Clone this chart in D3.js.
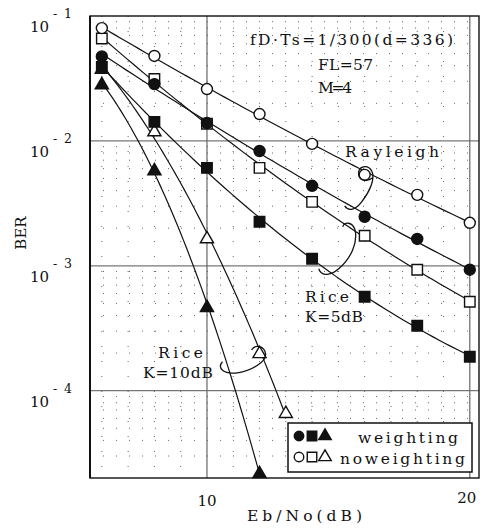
<!DOCTYPE html>
<html><head><meta charset="utf-8">
<script src="https://cdn.jsdelivr.net/npm/d3@7"></script>
<style>body{margin:0;background:#fff}svg{display:block}text{font-family:"DejaVu Serif","Liberation Serif",serif;fill:#111}</style>
</head><body>
<svg id="c" width="487" height="530"></svg>
<script>
// ---- data ----
const ebno = [6, 8, 10, 12, 14, 16, 18, 20];
const rayleighNoW = [0.080, 0.0479, 0.026, 0.0164, 0.00946, 0.00535, 0.0037, 0.00221];
const rayleighW   = [0.0475, 0.0285, 0.0139, 0.0083, 0.00437, 0.00247, 0.00164, 0.00093];
const rice5NoW    = [0.066, 0.0313, 0.0137, 0.00608, 0.00325, 0.00174, 0.00093, 0.000515];
const rice5W      = [0.0391, 0.0142, 0.00608, 0.00225, 0.00114, 0.000565, 0.000331, 0.000187];
const ebnoK10W   = [6, 8, 10, 12];
const rice10W    = [0.0286, 0.00586, 0.00047, 2.2e-5];
const ebnoK10NoW = [6, 8, 10, 12, 13];
const rice10NoW  = [0.038, 0.012, 0.00167, 0.000201, 6.67e-5];
const yTicks = [1e-1, 1e-2, 1e-3, 1e-4];
const yTickExp = ["-1", "-2", "-3", "-4"];
const xTicks = [10, 20];
const legendLabels = ["weighting", "noweighting"];

const svg = d3.select("#c");
const L = 90, R = 479, T = 16, B = 478;
const x = d3.scaleLinear().domain([5.55, 20.35]).range([L, R]);
const y = d3.scaleLog().domain([2e-5, 0.1]).range([B, T]);

// minor dotted grid
const g = svg.append("g");
const minorY = [];
for (let e = -5; e <= -2; e++) for (let m = 2; m <= 9; m++) { const v = m * Math.pow(10, e); if (v > 2e-5 && v < 0.1) minorY.push(v); }
g.selectAll(".my").data(minorY).join("line")
  .attr("x1", L).attr("x2", R).attr("y1", d => y(d)).attr("y2", d => y(d))
  .attr("stroke", "#666").attr("stroke-width", 1).attr("stroke-dasharray", "1,12");
const minorX = d3.range(6, 20).filter(d => d !== 10);
g.selectAll(".mx").data(minorX).join("line")
  .attr("y1", T).attr("y2", B).attr("x1", d => x(d)).attr("x2", d => x(d))
  .attr("stroke", "#666").attr("stroke-width", 1).attr("stroke-dasharray", "1,14");

// major grid
g.selectAll(".gy").data(yTicks.slice(1)).join("line")
  .attr("x1", L).attr("x2", R).attr("y1", d => y(d)).attr("y2", d => y(d))
  .attr("stroke", "#777").attr("stroke-width", 1.3);
g.selectAll(".gx").data(xTicks).join("line")
  .attr("y1", T).attr("y2", B).attr("x1", d => x(d)).attr("x2", d => x(d))
  .attr("stroke", "#666").attr("stroke-width", 1.2);

// frame
svg.append("rect").attr("x", L).attr("y", T).attr("width", R - L).attr("height", B - T)
  .attr("fill", "none").attr("stroke", "#111").attr("stroke-width", 1.4);
svg.append("line").attr("x1", L).attr("x2", L).attr("y1", T).attr("y2", B).attr("stroke", "#111").attr("stroke-width", 2);

// tick labels
yTicks.forEach((v, i) => {
  svg.append("text").attr("x", 30).attr("y", y(v) + 16).attr("font-size", 15).text("10");
  svg.append("text").attr("x", 53).attr("y", y(v) + 2).attr("font-size", 12.5)
    .attr("textLength", 19).attr("lengthAdjust", "spacing").text(yTickExp[i]);
});
xTicks.forEach(v => {
  svg.append("text").attr("x", x(v) - (v === 20 ? 3 : 0)).attr("y", v === 20 ? 503 : 506)
    .attr("text-anchor", "middle").attr("font-size", 15).text(String(v));
});
svg.append("text").attr("x", 247).attr("y", 521).attr("font-size", 15.5)
  .attr("textLength", 115).attr("lengthAdjust", "spacing").text("Eb/No(dB)");
svg.append("text").attr("transform", "translate(26,233) rotate(-90)").attr("text-anchor", "middle")
  .attr("font-size", 15).text("BER");

// quadratic least-squares fit of log10(BER) vs Eb/No (curves are fits, markers scatter around)
function quadFit(xs, vs) {
  const n = xs.length; let S = [0,0,0,0,0], Ty = [0,0,0];
  for (let i = 0; i < n; i++) { const xi = xs[i], yi = Math.log10(vs[i]);
    for (let k = 0; k < 5; k++) S[k] += Math.pow(xi, k);
    for (let k = 0; k < 3; k++) Ty[k] += Math.pow(xi, k) * yi; }
  const A = [[S[0],S[1],S[2]],[S[1],S[2],S[3]],[S[2],S[3],S[4]]];
  // solve 3x3 by Cramer
  const det = m => m[0][0]*(m[1][1]*m[2][2]-m[1][2]*m[2][1]) - m[0][1]*(m[1][0]*m[2][2]-m[1][2]*m[2][0]) + m[0][2]*(m[1][0]*m[2][1]-m[1][1]*m[2][0]);
  const D = det(A), c = [];
  for (let j = 0; j < 3; j++) { const M = A.map((r, i) => r.map((v, k) => k === j ? Ty[i] : v)); c.push(det(M) / D); }
  return xv => Math.pow(10, c[0] + c[1] * xv + c[2] * xv * xv);
}
const series = [
  {xs: ebnoK10NoW, v: rice10NoW, shape: "tri", fill: false},
  {xs: ebno, v: rice5NoW, shape: "sq", fill: false},
  {xs: ebno, v: rayleighW, shape: "circ", fill: true},
  {xs: ebno, v: rayleighNoW, shape: "circ", fill: false},
  {xs: ebnoK10W, v: rice10W, shape: "tri", fill: true},
  {xs: ebno, v: rice5W, shape: "sq", fill: true},
];
const lg = svg.append("g");
const ln = d3.line().x(d => x(d[0])).y(d => y(d[1]));
series.forEach(s => {
  const f = quadFit(s.xs, s.v);
  const x0 = s.xs[0], x1 = s.xs[s.xs.length - 1];
  const pts = d3.range(0, 61).map(i => { const xv = x0 + (x1 - x0) * i / 60; return [xv, Math.max(f(xv), 2.05e-5)]; });
  lg.append("path").attr("d", ln(pts)).attr("fill", "none").attr("stroke", "#111").attr("stroke-width", 1.2);
});
function marker(sel, shape, fill, size) {
  const sym = shape === "circ" ? d3.symbolCircle : shape === "sq" ? d3.symbolSquare : d3.symbolTriangle;
  const area = shape === "circ" ? Math.PI * (size / 2) * (size / 2) : shape === "sq" ? size * size : size * size * 0.75;
  sel.attr("d", d3.symbol().type(sym).size(area)())
    .attr("fill", fill ? "#111" : "#fff").attr("stroke", "#111").attr("stroke-width", 1.4);
}
const mg = svg.append("g");
series.forEach(s => {
  s.v.forEach((v, i) => {
    const p = mg.append("path").attr("transform", `translate(${x(s.xs[i])},${y(v) + (s.shape === "tri" ? 1 : 0)})`);
    marker(p, s.shape, s.fill, s.shape === "circ" ? 11 : s.shape === "sq" ? 10.5 : 10);
  });
});

// annotation texts
const ann = [
  ["fD·Ts=1/300(d=336)", 250, 45, 203],
  ["FL=57", 318, 70, 55],
  ["M=4", 318, 93, 34],
  ["Rayleigh", 345, 157, 94],
  ["Rice", 305, 302, 44],
  ["K=5dB", 305, 322, 58],
  ["Rice", 158, 358, 45],
  ["K=10dB", 143, 378, 70],
];
ann.forEach(a => svg.append("text").attr("x", a[1]).attr("y", a[2]).attr("font-size", 15.5)
  .attr("textLength", a[3]).attr("lengthAdjust", "spacing").text(a[0]));

// annotation loops anchored on data points
const st = sel => sel.attr("fill", "none").attr("stroke", "#111").attr("stroke-width", 1.3);
const ax1 = x(16), ay1 = y(rayleighNoW[5]);
st(svg.append("path")).attr("d",
  `M${ax1-20},${ay1+31} C${ax1-16},${ay1+37} ${ax1-9},${ay1+35} ${ax1-3},${ay1+27} C${ax1+5},${ay1+17} ${ax1+11},${ay1+4} ${ax1+7},${ay1-4} C${ax1+3},${ay1-11} ${ax1-7},${ay1-9} ${ax1-6},${ay1} C${ax1-5},${ay1+6} ${ax1+3},${ay1+7} ${ax1+8},${ay1+3}`);
const ax2 = x(16), ay2 = y(rice5NoW[5]);
st(svg.append("path")).attr("d",
  `M${ax2-46},${ay2+33} C${ax2-43},${ay2+41} ${ax2-34},${ay2+40} ${ax2-26},${ay2+33} C${ax2-14},${ay2+23} ${ax2-6},${ay2+6} ${ax2-10},${ay2-7} C${ax2-13},${ay2-14} ${ax2-20},${ay2-14} ${ax2-22},${ay2-9}`);
const ax3 = x(12), ay3 = y(rice10NoW[3]);
st(svg.append("path")).attr("d",
  `M${ax3-37},${ay3+9} C${ax3-43},${ay3+15} ${ax3-36},${ay3+22} ${ax3-22},${ay3+20} C${ax3-8},${ay3+18} ${ax3+7},${ay3+9} ${ax3+6},${ay3+1} C${ax3+5},${ay3-7} ${ax3-4},${ay3-9} ${ax3-8},${ay3-3}`);

// legend
svg.append("rect").attr("x", 288).attr("y", 423).attr("width", 184).attr("height", 49)
  .attr("fill", "#fff").attr("stroke", "#111").attr("stroke-width", 1.5);
const legShapes = ["circ", "sq", "tri"];
legendLabels.forEach((lab, r) => {
  const cy = 436 + r * 21;
  legShapes.forEach((sh, k) => {
    const p = svg.append("path").attr("transform", `translate(${299 + k * 13},${cy})`);
    marker(p, sh, r === 0, 9.5);
  });
  svg.append("text").attr("x", r === 0 ? 358 : 340).attr("y", cy + 7).attr("font-size", 15.5)
    .attr("textLength", r === 0 ? 100 : 125).attr("lengthAdjust", "spacing").text(lab);
});
</script>
</body></html>
